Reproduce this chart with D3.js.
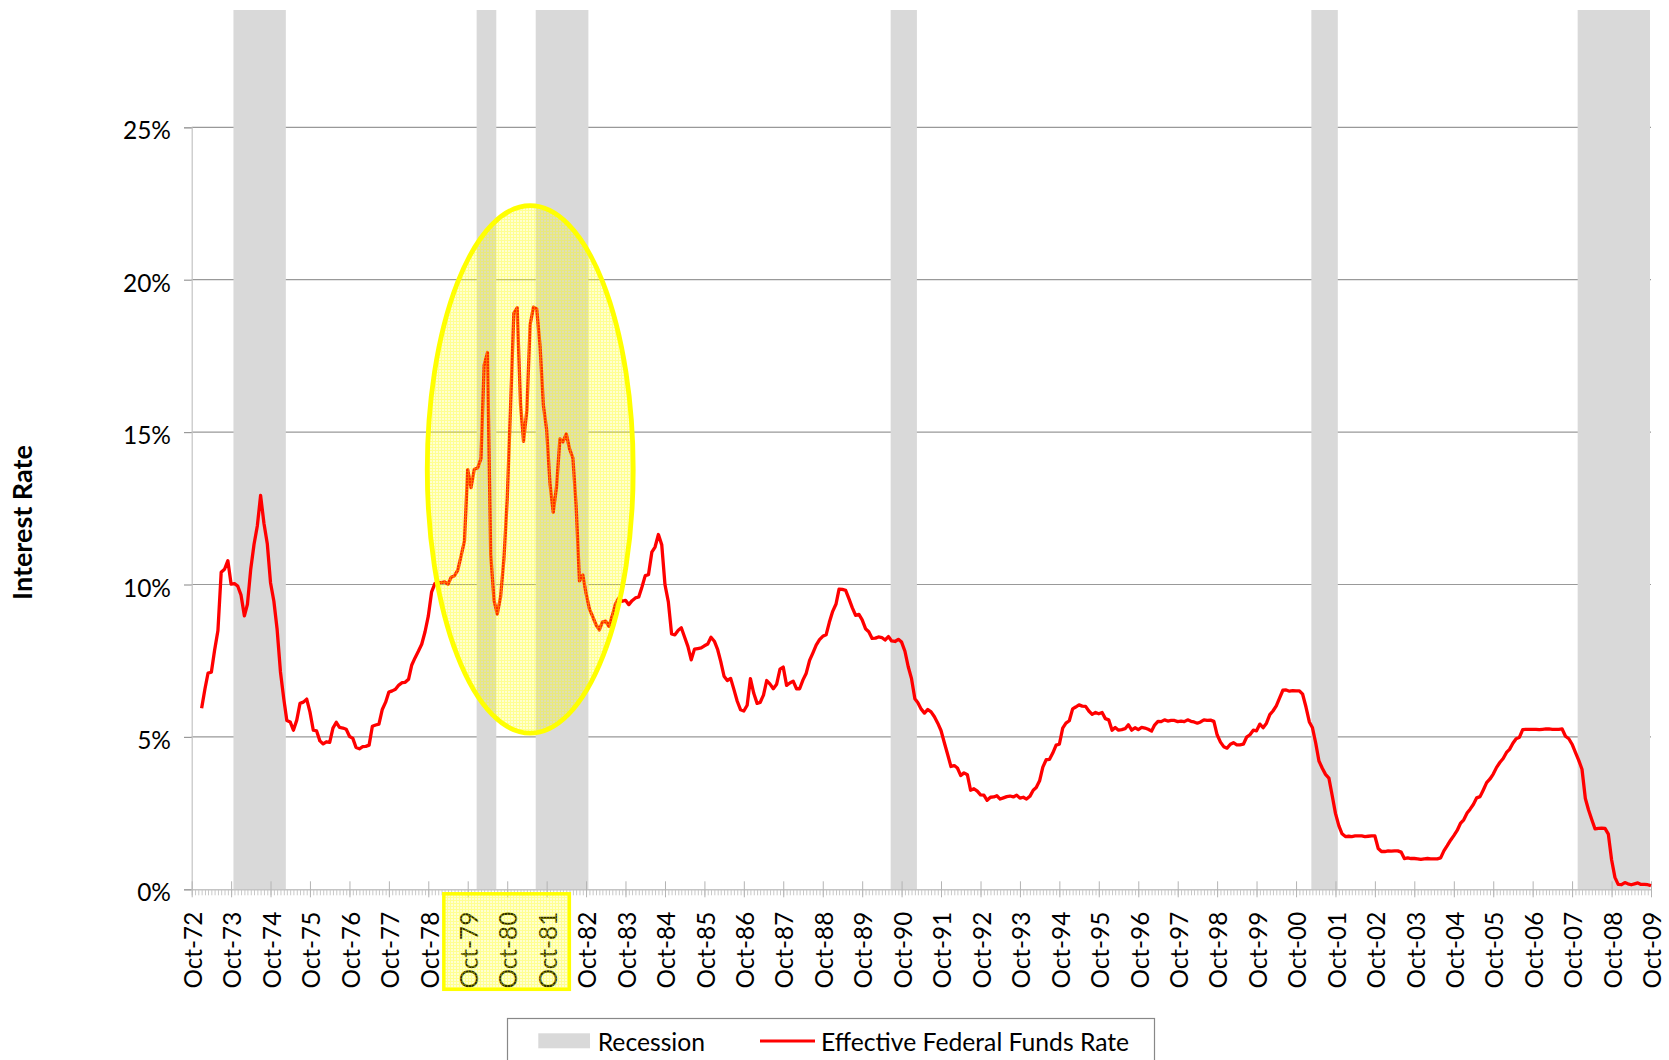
<!DOCTYPE html>
<html>
<head>
<meta charset="utf-8">
<script src="https://cdn.jsdelivr.net/npm/d3@7"></script>
<style>
  body { margin: 0; background: #fff; }
  text { font-family: Lato, "Open Sans", sans-serif; fill: #000; }
</style>
</head>
<body>
<div class="chart"></div>
<script>
// effective federal funds rate, monthly, in percent
const rateStart = "1973-01";
const fedFunds = [
  5.94, 6.58, 7.09, 7.12, 7.84, 8.49, 10.40, 10.50, 10.78, 10.01, 10.03, 9.95,   // 1973
  9.65, 8.97, 9.35, 10.51, 11.31, 11.93, 12.92, 12.01, 11.34, 10.06, 9.45, 8.53,  // 1974
  7.13, 6.24, 5.54, 5.49, 5.22, 5.55, 6.10, 6.14, 6.24, 5.82, 5.22, 5.20,         // 1975
  4.87, 4.77, 4.84, 4.82, 5.29, 5.48, 5.31, 5.29, 5.25, 5.02, 4.95, 4.65,         // 1976
  4.61, 4.68, 4.69, 4.73, 5.35, 5.39, 5.42, 5.90, 6.14, 6.47, 6.51, 6.56,         // 1977
  6.70, 6.78, 6.79, 6.89, 7.36, 7.60, 7.81, 8.04, 8.45, 8.96, 9.76, 10.03,        // 1978
  10.07, 10.06, 10.09, 10.01, 10.24, 10.29, 10.47, 10.94, 11.43, 13.77, 13.18, 13.78, // 1979
  13.82, 14.13, 17.19, 17.61, 10.98, 9.47, 9.03, 9.61, 10.87, 12.81, 15.85, 18.90,    // 1980
  19.08, 15.93, 14.70, 15.72, 18.52, 19.10, 19.04, 17.82, 15.87, 15.08, 13.31, 12.37, // 1981
  13.22, 14.78, 14.68, 14.94, 14.45, 14.15, 12.59, 10.12, 10.31, 9.71, 9.20, 8.95,    // 1982
  8.68, 8.51, 8.77, 8.80, 8.63, 8.98, 9.37, 9.56, 9.45, 9.48, 9.34, 9.47,         // 1983
  9.56, 9.59, 9.91, 10.29, 10.32, 11.06, 11.23, 11.64, 11.30, 9.99, 9.43, 8.38,   // 1984
  8.35, 8.50, 8.58, 8.27, 7.97, 7.53, 7.88, 7.90, 7.92, 7.99, 8.05, 8.27,         // 1985
  8.14, 7.86, 7.48, 6.99, 6.85, 6.92, 6.56, 6.17, 5.89, 5.85, 6.04, 6.91,         // 1986
  6.43, 6.10, 6.13, 6.37, 6.85, 6.73, 6.58, 6.73, 7.22, 7.29, 6.69, 6.77,         // 1987
  6.83, 6.58, 6.58, 6.87, 7.09, 7.51, 7.75, 8.01, 8.19, 8.30, 8.35, 8.76,         // 1988
  9.12, 9.36, 9.85, 9.84, 9.81, 9.53, 9.24, 8.99, 9.02, 8.84, 8.55, 8.45,         // 1989
  8.23, 8.24, 8.28, 8.26, 8.18, 8.29, 8.15, 8.13, 8.20, 8.11, 7.81, 7.31,         // 1990
  6.91, 6.25, 6.12, 5.91, 5.78, 5.90, 5.82, 5.66, 5.45, 5.21, 4.81, 4.43,         // 1991
  4.03, 4.06, 3.98, 3.73, 3.82, 3.76, 3.25, 3.30, 3.22, 3.10, 3.09, 2.92,         // 1992
  3.02, 3.03, 3.07, 2.96, 3.00, 3.04, 3.06, 3.03, 3.09, 2.99, 3.02, 2.96,         // 1993
  3.05, 3.25, 3.34, 3.56, 4.01, 4.25, 4.26, 4.47, 4.73, 4.76, 5.29, 5.45,         // 1994
  5.53, 5.92, 5.98, 6.05, 6.01, 6.00, 5.85, 5.74, 5.80, 5.76, 5.80, 5.60,         // 1995
  5.56, 5.22, 5.31, 5.22, 5.24, 5.27, 5.40, 5.22, 5.30, 5.24, 5.31, 5.29,         // 1996
  5.25, 5.19, 5.39, 5.51, 5.50, 5.56, 5.52, 5.54, 5.54, 5.50, 5.52, 5.50,         // 1997
  5.56, 5.51, 5.49, 5.45, 5.49, 5.56, 5.54, 5.55, 5.51, 5.07, 4.83, 4.68,         // 1998
  4.63, 4.76, 4.81, 4.74, 4.74, 4.76, 4.99, 5.07, 5.22, 5.20, 5.42, 5.30,         // 1999
  5.45, 5.73, 5.85, 6.02, 6.27, 6.53, 6.54, 6.50, 6.52, 6.51, 6.51, 6.40,         // 2000
  5.98, 5.49, 5.31, 4.80, 4.21, 3.97, 3.77, 3.65, 3.07, 2.49, 2.09, 1.82,         // 2001
  1.73, 1.74, 1.73, 1.75, 1.75, 1.75, 1.73, 1.74, 1.75, 1.75, 1.34, 1.24,         // 2002
  1.24, 1.26, 1.25, 1.26, 1.26, 1.22, 1.01, 1.03, 1.01, 1.01, 1.00, 0.98,         // 2003
  1.00, 1.01, 1.00, 1.00, 1.00, 1.03, 1.26, 1.43, 1.61, 1.76, 1.93, 2.16,         // 2004
  2.28, 2.50, 2.63, 2.79, 3.00, 3.04, 3.26, 3.50, 3.62, 3.78, 4.00, 4.16,         // 2005
  4.29, 4.49, 4.59, 4.79, 4.94, 4.99, 5.24, 5.25, 5.25, 5.25, 5.25, 5.24,         // 2006
  5.25, 5.26, 5.26, 5.25, 5.25, 5.25, 5.26, 5.02, 4.94, 4.76, 4.49, 4.24,         // 2007
  3.94, 2.98, 2.61, 2.28, 1.98, 2.00, 2.01, 2.00, 1.81, 0.97, 0.39, 0.16,         // 2008
  0.15, 0.22, 0.18, 0.15, 0.18, 0.21, 0.16, 0.16, 0.15, 0.12                      // 2009
];

const recessionStart = ["1973-11", "1980-01", "1981-07", "1990-07", "2001-03", "2007-12"];
const recessionEnd   = ["1975-03", "1980-07", "1982-11", "1991-03", "2001-11", "2009-10"];

const yTicks = [0, 5, 10, 15, 20, 25];
const tickYears = d3.range(1972, 2010);          // an "Oct-yy" label every year
const highlightYears = [1979, 1980, 1981];
// circled area: date span and rate span
const circleFrom = "1978-09", circleTo = "1984-01";
const circleLow = 5.05, circleHigh = 22.5;

const width = 1669, height = 1060;
const svg = d3.select(".chart").append("svg")
    .attr("width", width)
    .attr("height", height);

const parse = d3.timeParse("%Y-%m");
const oct = yr => new Date(yr, 9, 1);

const xScale = d3.scaleTime()
    .domain([oct(1972), oct(2009)])
    .range([191.7, 1651]);
const yScale = d3.scaleLinear()
    .domain([0, 25])
    .range([889.3, 127.3]);
const plotTop = 10;

const data = fedFunds.map((v, i) => ({date: d3.timeMonth.offset(parse(rateStart), i), rate: v}));

// pattern for the translucent highlight
const defs = svg.append("defs");
const pat = defs.append("pattern")
    .attr("id", "hl")
    .attr("width", 3).attr("height", 3)
    .attr("patternUnits", "userSpaceOnUse");
pat.append("rect").attr("width", 3).attr("height", 3)
    .attr("fill", "#ffff00").attr("fill-opacity", 0.18);
pat.append("path").attr("d", "M0,0.5H3M0.5,1V3")
    .attr("stroke", "#ffff00").attr("stroke-opacity", 0.3).attr("stroke-width", 1);

// gridlines
svg.append("g")
    .selectAll("line")
    .data(yTicks.filter(d => d > 0))
    .enter().append("line")
    .attr("x1", xScale.range()[0]).attr("x2", xScale.range()[1])
    .attr("y1", d => yScale(d)).attr("y2", d => yScale(d))
    .attr("stroke", "#999")
    .attr("stroke-width", 1.2);

// recession bands
svg.append("g")
    .selectAll("rect")
    .data(recessionStart.map((s, i) => ({start: parse(s), end: parse(recessionEnd[i])})))
    .enter().append("rect")
    .attr("x", d => xScale(d.start) - 1)
    .attr("width", d => xScale(d.end) - xScale(d.start))
    .attr("y", plotTop)
    .attr("height", yScale(0) - plotTop)
    .attr("fill", "#d9d9d9");

// y axis
svg.append("g")
    .attr("transform", `translate(${xScale.range()[0]},0)`)
    .call(d3.axisLeft(yScale).tickValues(yTicks).tickFormat(d => d + "%").tickSize(7.7).tickPadding(13))
    .call(g => g.select(".domain").attr("stroke", "#c4c4c4").attr("stroke-width", 1.2))
    .call(g => g.selectAll(".tick line").attr("stroke", "#999").attr("stroke-width", 1.2))
    .call(g => g.selectAll("text")
        .attr("dy", "0.47em")
        .style("font-size", "24.5px")
        .attr("fill", "#000"));

// minor month ticks
svg.append("g")
    .attr("transform", `translate(0,${yScale(0)})`)
    .call(d3.axisBottom(xScale)
        .tickValues(d3.timeMonth.range(oct(1972), d3.timeMonth.offset(oct(2009), 1)))
        .tickSize(6).tickFormat(""))
    .call(g => g.select(".domain").remove())
    .call(g => g.selectAll(".tick line").attr("stroke", "#c8c8c8").attr("stroke-width", 1));

// x axis with yearly October ticks
svg.append("g")
    .attr("transform", `translate(0,${yScale(0)})`)
    .call(d3.axisBottom(xScale)
        .tickValues(tickYears.map(oct))
        .tickSize(8)
        .tickSizeOuter(0)
        .tickFormat(d3.timeFormat("%b-%y")))
    .call(g => g.select(".domain").attr("stroke", "#c4c4c4").attr("stroke-width", 1.5))
    .call(g => g.selectAll(".tick line").attr("stroke", "#b4b4b4").attr("y1", -8))
    .call(g => g.selectAll("text")
        .attr("transform", "rotate(-90)")
        .attr("x", -22.4)
        .attr("y", 0)
        .attr("dy", "0.4em")
        .attr("text-anchor", "end")
        .style("font-size", "24.3px")
        .attr("fill", "#000"));

// rate line
const line = d3.line()
    .x(d => xScale(d.date))
    .y(d => yScale(d.rate));

svg.append("path")
    .datum(data)
    .attr("d", line)
    .attr("fill", "none")
    .attr("stroke", "#ff0000")
    .attr("stroke-width", 3.3)
    .attr("stroke-linejoin", "round");

// highlight ellipse
const cx0 = xScale(parse(circleFrom)), cx1 = xScale(parse(circleTo));
const cy0 = yScale(circleHigh), cy1 = yScale(circleLow);
svg.append("ellipse")
    .attr("cx", (cx0 + cx1) / 2)
    .attr("cy", (cy0 + cy1) / 2)
    .attr("rx", (cx1 - cx0) / 2 - 2.2)
    .attr("ry", (cy1 - cy0) / 2 - 2.2)
    .attr("fill", "url(#hl)")
    .attr("stroke", "#ffff00")
    .attr("stroke-width", 4.8);

// highlight box round the tick labels
const yearW = xScale(oct(1981)) - xScale(oct(1980));
const bx0 = xScale(oct(highlightYears[0])) - 0.65 * yearW;
const bx1 = xScale(oct(highlightYears[highlightYears.length - 1])) + 0.62 * yearW;
svg.append("rect")
    .attr("x", bx0 + 1.75)
    .attr("y", 893.8)
    .attr("width", bx1 - bx0 - 3.5)
    .attr("height", 95.5)
    .attr("fill", "url(#hl)")
    .attr("stroke", "#ffff00")
    .attr("stroke-width", 3.5);

// y axis title
svg.append("text")
    .attr("transform", "translate(31.7,522.5) rotate(-90)")
    .attr("text-anchor", "middle")
    .style("font-size", "27px")
    .style("font-weight", "bold")
    .text("Interest Rate");

// legend
const legend = svg.append("g");
legend.append("rect")
    .attr("x", 507.5).attr("y", 1018.5)
    .attr("width", 647).attr("height", 60)
    .attr("fill", "#fff")
    .attr("stroke", "#888")
    .attr("stroke-width", 1.2);
legend.append("rect")
    .attr("x", 538.3).attr("y", 1033.3)
    .attr("width", 51.7).attr("height", 15)
    .attr("fill", "#d9d9d9");
legend.append("text")
    .attr("x", 597.7).attr("y", 1050.7)
    .style("font-size", "24.7px")
    .text("Recession");
legend.append("line")
    .attr("x1", 760).attr("x2", 815)
    .attr("y1", 1041).attr("y2", 1041)
    .attr("stroke", "#ff0000")
    .attr("stroke-width", 3);
legend.append("text")
    .attr("x", 821).attr("y", 1050.7)
    .style("font-size", "24.7px")
    .text("Effective Federal Funds Rate");
</script>
</body>
</html>
